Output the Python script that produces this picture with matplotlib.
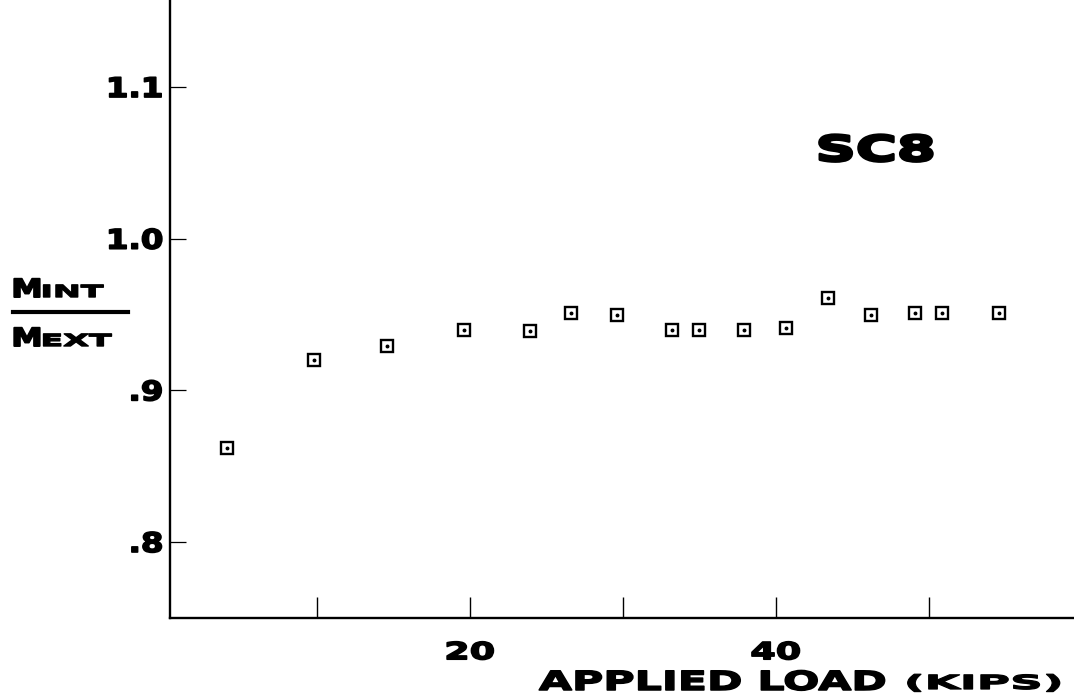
import matplotlib
matplotlib.use("Agg")
import matplotlib.pyplot as plt
from matplotlib.patheffects import AbstractPathEffect
from matplotlib.transforms import Affine2D
from matplotlib.lines import Line2D

# Measured moment ratio versus applied load, specimen SC8
load_kips = [4.1, 9.8, 14.6, 19.6, 23.9, 26.6, 29.6, 33.2, 35.0, 37.9,
             40.7, 43.4, 46.2, 49.1, 50.9, 54.6]
m_ratio = [0.862, 0.920, 0.929, 0.940, 0.939, 0.951, 0.950, 0.940, 0.940,
           0.940, 0.941, 0.961, 0.950, 0.951, 0.951, 0.951]

x_ticks = [10, 20, 30, 40, 50]
x_tick_labels = ["", "20", "", "40", ""]
y_ticks = [0.8, 0.9, 1.0, 1.1]
y_tick_labels = [".8", ".9", "1.0", "1.1"]

W, H = 1074, 697
FONT = "DejaVu Sans"


class Stretch(AbstractPathEffect):
    """Widen glyphs horizontally about an anchor and thicken their strokes."""

    def __init__(self, sx=1.0, anchor=0.0, stroke=0.8):
        super().__init__()
        self.sx = sx
        self.anchor = anchor
        self.stroke = stroke

    def draw_path(self, renderer, gc, tpath, affine, rgbFace=None):
        bb = tpath.get_extents(affine)
        ox = bb.x0 + self.anchor * bb.width
        aff = affine + Affine2D().translate(-ox, 0).scale(self.sx, 1.0).translate(ox, 0)
        gc0 = renderer.new_gc()
        gc0.copy_properties(gc)
        gc0.set_linewidth(self.stroke)
        gc0.set_foreground(rgbFace if rgbFace is not None else "black")
        gc0.set_joinstyle("round")
        renderer.draw_path(gc0, tpath, aff, rgbFace)
        gc0.restore()


def fx(px):
    return px / W


def fy(py):
    return 1 - py / H


fig = plt.figure(figsize=(W / 100, H / 100), dpi=100)
fig.patch.set_facecolor("white")
ax = fig.add_axes([fx(170), fy(618), fx(W - 170), 618 / H])

ax.plot(load_kips, m_ratio, linestyle="none", marker="s", ms=8.4, mew=1.7,
        mfc="white", mec="black", clip_on=False, zorder=3)
ax.plot(load_kips, m_ratio, linestyle="none", marker="o", ms=1.8,
        mfc="black", mec="black", zorder=4)

ax.set_xlim(0.39, 59.5)
ax.set_ylim(0.7499, 1.1574)

for side in ("top", "right"):
    ax.spines[side].set_visible(False)
for side in ("left", "bottom"):
    ax.spines[side].set_linewidth(1.7)
    ax.spines[side].set_color("black")

ax.set_xticks(x_ticks, x_tick_labels)
ax.set_yticks(y_ticks, y_tick_labels)
ax.tick_params(axis="x", direction="in", length=15, width=1.0, pad=16,
               labelsize=17)
ax.tick_params(axis="y", direction="in", length=11.5, width=0.9, pad=5,
               labelsize=19.5)
for lab in ax.get_xticklabels():
    lab.set_fontweight("bold")
    lab.set_family(FONT)
    lab.set_path_effects([Stretch(1.55, 0.5, 1.2)])
for lab in ax.get_yticklabels():
    lab.set_fontweight("bold")
    lab.set_family(FONT)
    lab.set_path_effects([Stretch(1.2, 1.0, 1.2)])


def wide_text(px, py, s, size, sx, stroke=1.0):
    fig.text(fx(px), fy(py), s, fontsize=size, fontweight="bold",
             family=FONT, ha="left", va="baseline",
             path_effects=[Stretch(sx, 0.0, stroke)])


# specimen tag
wide_text(817, 161, "SC8", 25.5, 1.58, 2.0)

# axis title
wide_text(539, 690, "APPLIED LOAD", 19.0, 1.62, 1.1)
wide_text(906, 689, "(KIPS)", 14.0, 2.34, 0.9)

# ratio label M_INT / M_EXT
wide_text(12, 297, "M", 18.0, 1.25, 1.4)
wide_text(42, 297, "INT", 12.0, 2.0, 1.0)
fig.add_artist(Line2D([fx(13), fx(128)], [fy(312), fy(312)],
                      color="black", lw=3.0, transform=fig.transFigure))
wide_text(12, 346, "M", 18.0, 1.25, 1.4)
wide_text(42, 346, "EXT", 12.0, 2.0, 1.0)

fig.savefig("out.png", dpi=100, facecolor="white")
